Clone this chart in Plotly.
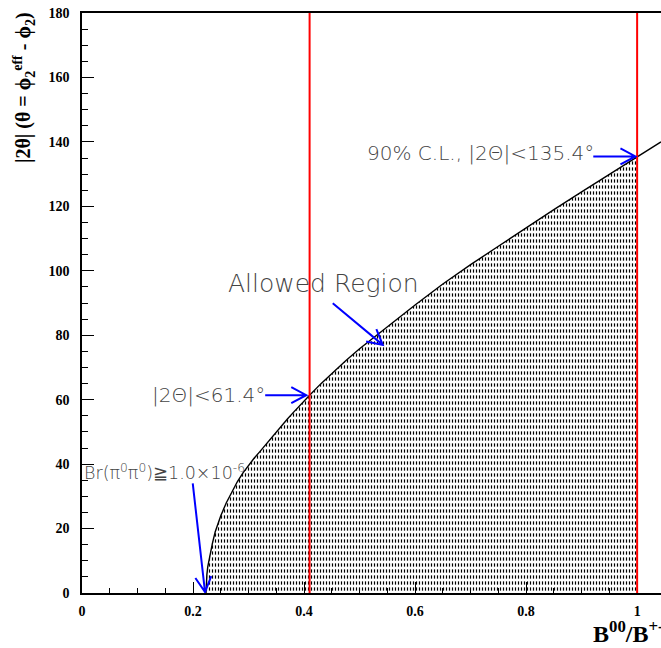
import plotly.graph_objects as go

# Curve: |2theta| (deg) vs B00/B+-
ratio = [0.2234, 0.2240, 0.2250, 0.2266, 0.2300, 0.2350, 0.2400, 0.2450, 0.2500, 0.2600,
         0.2700, 0.2800, 0.2900, 0.3000, 0.3100, 0.3200, 0.3300, 0.3400, 0.3500, 0.3600,
         0.3700, 0.3800, 0.3900, 0.4000, 0.4100, 0.4300, 0.4500, 0.4750, 0.5000, 0.5500,
         0.6000, 0.6500, 0.7000, 0.7500, 0.8000, 0.8500, 0.9000, 0.9500, 1.0000, 1.0430]
theta2 = [0.0, 3.5, 5.8, 8.2, 11.3, 15.5, 19.0, 21.6, 24.0, 28.0,
          31.5, 34.6, 37.3, 39.6, 41.8, 43.8, 45.9, 48.0, 50.0, 52.0,
          54.0, 55.9, 57.8, 59.6, 61.4, 64.9, 68.2, 72.1, 75.8, 82.7,
          89.4, 95.9, 101.9, 107.6, 113.4, 119.0, 124.5, 130.0, 135.4, 140.0]

limit_lines = [0.41, 1.0]
allowed_max = 1.0

x_ticks = [0, 0.2, 0.4, 0.6, 0.8, 1.0]
x_labels = ["0", "0.2", "0.4", "0.6", "0.8", "1"]
y_ticks = [0, 20, 40, 60, 80, 100, 120, 140, 160, 180]

# Plot geometry (pixels) for converting arrow heads
W, H = 661, 648
L, R, T, B = 82, 0, 13, 55
XR = [0, 1.043]
YR = [0, 180]
pw = W - L - R
ph = H - T - B
sx = pw / (XR[1] - XR[0])
sy = ph / (YR[1] - YR[0])

fx = [r for r in ratio if r <= allowed_max]
fy = [t for r, t in zip(ratio, theta2) if r <= allowed_max]

fig = go.Figure()
fig.add_trace(go.Scatter(
    x=fx, y=fy, mode="none", fill="tozeroy", fillcolor="rgba(0,0,0,0)",
    fillpattern=dict(shape="|", fgcolor="black", bgcolor="rgba(0,0,0,0)",
                     size=3, solidity=0.4, fillmode="replace"),
    hoverinfo="skip", showlegend=False))
fig.add_trace(go.Scatter(
    x=fx, y=fy, mode="none", fill="tozeroy", fillcolor="rgba(0,0,0,0)",
    fillpattern=dict(shape="-", fgcolor="#ffffff", bgcolor="rgba(0,0,0,0)",
                     size=6, solidity=0.45, fillmode="replace"),
    hoverinfo="skip", showlegend=False))
fig.add_trace(go.Scatter(
    x=ratio, y=theta2, mode="lines", line=dict(color="black", width=1.4),
    hoverinfo="skip", showlegend=False))

shapes = []
for xv in limit_lines:
    shapes.append(dict(type="line", xref="x", yref="paper", x0=xv, x1=xv, y0=0, y1=1,
                       line=dict(color="#ff0000", width=2)))


def arrow(x0, y0, x1, y1, hl=15, hw=8):
    # compute in pixel space then back to data
    px0, py0 = x0 * sx, -y0 * sy
    px1, py1 = x1 * sx, -y1 * sy
    dx, dy = px1 - px0, py1 - py0
    n = (dx * dx + dy * dy) ** 0.5
    ux, uy = dx / n, dy / n
    bx, by = px1 - ux * hl, py1 - uy * hl
    ax1, ay1 = bx - uy * hw, by + ux * hw
    ax2, ay2 = bx + uy * hw, by - ux * hw
    c = lambda px, py: f"{px / sx:.5f},{-py / sy:.4f}"
    path = (f"M {c(px0, py0)} L {c(px1, py1)} M {c(ax1, ay1)} L {c(px1, py1)} L {c(ax2, ay2)}")
    return dict(type="path", xref="x", yref="y", path=path,
                line=dict(color="#0000ff", width=2))


shapes.append(arrow(0.921, 135.5, 0.997, 135.5))
shapes.append(arrow(0.4517, 89.9, 0.5418, 77.0))
shapes.append(arrow(0.330, 61.4, 0.404, 61.4))
shapes.append(arrow(0.1995, 34.0, 0.2216, 0.3))

afont = dict(family="DejaVu Sans", size=20, color="#444444", weight=300)
annotations = [
    dict(x=0.5100, y=136.6, xref="x", yref="y", text="90% C.L., |2Θ|<135.4°",
         showarrow=False, xanchor="left", yanchor="middle", font=afont),
    dict(x=0.2595, y=96.2, xref="x", yref="y", text="Allowed Region",
         showarrow=False, xanchor="left", yanchor="middle", font=dict(afont, size=25)),
    dict(x=0.122, y=61.5, xref="x", yref="y", text="|2Θ|<61.4°",
         showarrow=False, xanchor="left", yanchor="middle", font=afont),
    dict(x=0.000, y=37.6, xref="x", yref="y",
         text="Br(π<sup>0</sup>π<sup>0</sup>)≧1.0×10<sup>-6</sup>",
         showarrow=False, xanchor="left", yanchor="middle", font=dict(afont, size=17.5)),
    dict(x=(24 - L) / pw, y=(H - B - 88) / ph, xref="paper", yref="paper",
         text="|2θ| (θ = ϕ<sub>2</sub><sup>eff</sup> - ϕ<sub>2</sub>)", textangle=-90,
         showarrow=False, xanchor="center", yanchor="middle",
         font=dict(family="Liberation Serif", size=20, color="black", weight="bold")),
    dict(x=(591 - L) / pw, y=(H - B - 632) / ph, xref="paper", yref="paper",
         text="B<sup>00</sup>/B<sup>+-</sup>",
         showarrow=False, xanchor="left", yanchor="middle",
         font=dict(family="Liberation Serif", size=24, color="black", weight="bold")),
]

tickfont = dict(family="Liberation Serif", size=14, color="black", weight="bold")
fig.update_layout(
    width=W, height=H, margin=dict(l=L, r=R, t=T, b=B),
    paper_bgcolor="white", plot_bgcolor="white",
    shapes=shapes, annotations=annotations, showlegend=False,
    xaxis=dict(range=XR, tickvals=x_ticks, ticktext=x_labels, ticks="inside", ticklen=11,
               tickcolor="black", tickwidth=1, showgrid=False, zeroline=False,
               showline=True, linecolor="black", linewidth=1.5, mirror=True,
               tickfont=tickfont, ticklabelstandoff=4,
               minor=dict(dtick=0.05, tick0=0, ticks="inside", ticklen=5, tickcolor="black",
                          showgrid=False)),
    yaxis=dict(range=YR, tickvals=y_ticks, ticks="inside", ticklen=12,
               tickcolor="black", tickwidth=1, showgrid=False, zeroline=False,
               showline=True, linecolor="black", linewidth=1.5,
               tickfont=tickfont, ticklabelstandoff=8,
               minor=dict(dtick=5, tick0=0, ticks="inside", ticklen=6, tickcolor="black",
                          showgrid=False)),
)

fig.write_html("out.html")
